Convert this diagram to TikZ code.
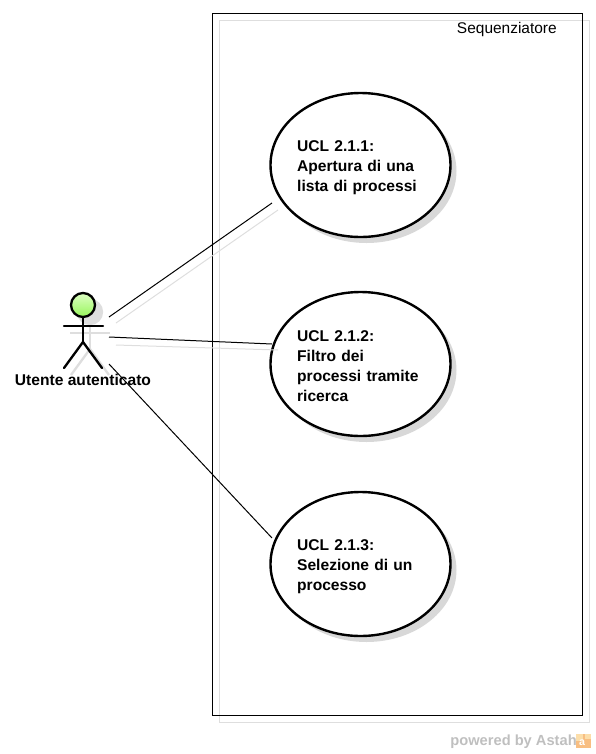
\documentclass[tikz,border=0pt]{standalone}
\usepackage{fontspec}
\setmainfont{Liberation Sans}
\usetikzlibrary{shapes.geometric,positioning}
\definecolor{shadowgray}{RGB}{222,222,222}
\definecolor{caseshade}{RGB}{216,216,216}
\definecolor{headtop}{RGB}{222,255,196}
\definecolor{headbottom}{RGB}{150,245,90}
\definecolor{logoorange}{RGB}{248,190,130}
\definecolor{logolight}{RGB}{252,222,170}
\newcommand{\casestrut}{\rule{0pt}{12pt}}
\tikzset{
  usecase/.style={ellipse, draw=black, line width=1.8pt, fill=white, minimum width=135pt, minimum height=108pt, inner sep=0pt, text width=95pt, align=left, font=\fontsize{11.7}{15}\selectfont\bfseries},
  caseshadow/.style={ellipse, fill=caseshade, minimum width=135pt, minimum height=108pt, inner sep=0pt},
  actorline/.style={line width=1.75pt, line cap=round},
  actorshadow/.style={line width=1.75pt, color=shadowgray},
  assoc/.style={line width=0.75pt},
  assocshadow/.style={line width=0.75pt, color=shadowgray}
}
\begin{document}
\begin{tikzpicture}[x=0.75pt,y=-0.75pt]
  \useasboundingbox (0,0) rectangle (596,754);

  % system boundary
  \draw[color=shadowgray, line width=0.75pt] (219,20) rectangle (589,722);
  \draw[line width=0.75pt] (212,13) rectangle (582,715);
  \node[anchor=east, inner sep=0pt, font=\fontsize{11.6}{15}\selectfont] (system) at (557,29.5) {Sequenziatore};

  % use cases
  \node[caseshadow] (shadow1) at (366.5,171) {};
  \node[caseshadow] (shadow2) at (366.5,370) {};
  \node[caseshadow] (shadow3) at (366.5,570) {};
  \node[usecase] (ucl1) at (360.5,165) {\casestrut UCL 2.1.1:\\Apertura di una\\lista di processi};
  \node[usecase] (ucl2) at (360.5,364) {\casestrut UCL 2.1.2:\\Filtro dei\\processi tramite\\ricerca};
  \node[usecase] (ucl3) at (360.5,564) {\casestrut UCL 2.1.3:\\Selezione di un\\processo};

  % actor shadow
  \draw[actorshadow, fill=shadowgray] (90,312) circle (12);
  \draw[actorshadow] (70,333) -- (110,333);
  \draw[actorshadow] (90,324) -- (90,349);
  \draw[actorshadow] (71,375) -- (90,349) -- (109,375);

  % actor
  \draw[actorline, top color=headtop, bottom color=headbottom] (83,305) circle (12);
  \draw[actorline] (64,326) -- (103,326);
  \draw[actorline] (83,317) -- (83,342);
  \draw[actorline] (64,368) -- (83,342) -- (102,368);
  \node[inner sep=0pt, font=\fontsize{11.7}{15}\selectfont\bfseries] (actor) at (83,380) {Utente autenticato};

  % connector ends
  \coordinate (a1) at (109,317);
  \coordinate (a2) at (109,337);
  \coordinate (a3) at (109,364);
  \coordinate (b1) at (272,203);
  \coordinate (b2) at (272,344);
  \coordinate (b3) at (272,538);
  \coordinate (sa1) at (116,323);
  \coordinate (sa2) at (116,345);
  \coordinate (sb1) at (278,210);
  \coordinate (sb2) at (278,350);

  \draw[assocshadow] (sa1) -- (sb1);
  \draw[assocshadow] (sa2) -- (sb2);
  \draw[assoc] (a1) -- (b1);
  \draw[assoc] (a2) -- (b2);
  \draw[assoc] (a3) -- (b3);

  % footer
  \node[anchor=east, inner sep=0pt, color=black!25, font=\fontsize{11}{13}\selectfont\bfseries] (powered) at (577,741.5) {powered by Astah};
  \fill[logoorange] (576,734) rectangle (591,748);
  \fill[logolight] (576,734) rectangle (583,741);
  \fill[logolight] (585,734) rectangle (591,739);
  \node[inner sep=0pt, color=white, font=\fontsize{8}{8}\selectfont\bfseries] (logo) at (582,743) {a};
\end{tikzpicture}
\end{document}
